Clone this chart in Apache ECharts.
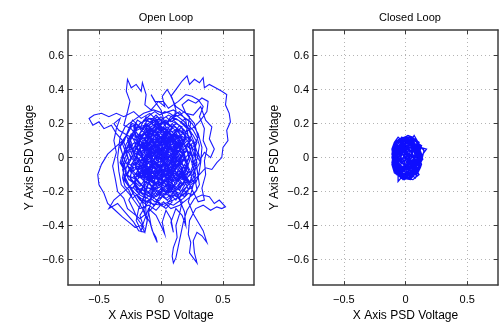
<!DOCTYPE html>
<html>
<head>
<meta charset="utf-8">
<script src="https://cdn.jsdelivr.net/npm/echarts@6/dist/echarts.min.js"></script>
<style>
  html, body { margin: 0; padding: 0; background: #fff; }
  #chart { width: 502px; height: 327px; }
</style>
</head>
<body>
<div id="chart"></div>
<script>
// panel titles and axis names
var titles = ['Open Loop', 'Closed Loop'];
var xName = 'X Axis PSD Voltage';
var yName = 'Y Axis PSD Voltage';

// tick positions
var xTicks = [-0.5, 0, 0.5];
var yTicks = [-0.6, -0.4, -0.2, 0, 0.2, 0.4, 0.6];

// open loop trajectory (x, y)
var openLoop = [
  [0.02,0.01],[0.08,-0.04],[0.12,0.03],[0.05,0.09],[-0.03,0.06],[-0.09,0.12],[-0.15,0.07],[-0.11,-0.01],
  [-0.18,-0.06],[-0.12,-0.12],[-0.05,-0.08],[0.03,-0.14],[0.1,-0.09],[0.17,-0.13],[0.22,-0.05],[0.18,0.04],
  [0.24,0.1],[0.16,0.15],[0.09,0.2],[0.02,0.14],[-0.06,0.19],[-0.13,0.16],[-0.2,0.2],[-0.24,0.12],
  [-0.28,0.05],[-0.22,-0.02],[-0.27,-0.1],[-0.2,-0.16],[-0.14,-0.22],[-0.06,-0.18],[0.01,-0.23],[0.08,-0.19],
  [0.14,-0.24],[0.2,-0.18],[0.26,-0.12],[0.29,-0.03],[0.25,0.05],
  [0.3,0.12],[0.27,0.2],[0.2,0.26],[0.12,0.3],[0.08,0.36],[0.13,0.41],[0.17,0.45],[0.21,0.48],
  [0.23,0.43],[0.27,0.46],[0.31,0.44],[0.34,0.47],[0.35,0.41],[0.39,0.43],[0.44,0.41],[0.49,0.39],
  [0.53,0.37],[0.52,0.31],[0.55,0.26],[0.56,0.21],[0.53,0.16],[0.54,0.1],[0.5,0.06],[0.49,0.0],
  [0.45,-0.03],[0.41,-0.07],[0.36,-0.06],[0.31,-0.1],
  [0.24,-0.15],[0.18,-0.09],[0.11,-0.15],[0.06,-0.07],[-0.01,-0.11],[-0.07,-0.03],[-0.14,-0.09],[-0.1,0.02],
  [-0.04,0.05],[0.03,0.02],[0.09,0.08],[0.15,0.02],[0.1,-0.03],[0.04,-0.05],[-0.02,0.0],[-0.08,0.06],
  [-0.16,0.02],[-0.21,0.08],[-0.17,0.13],[-0.1,0.09],[-0.04,0.13],[0.04,0.1],[0.11,0.14],[0.18,0.1],
  [0.21,0.17],[0.14,0.22],[0.06,0.25],[-0.02,0.21],[-0.09,0.26],[-0.16,0.23],
  [-0.22,0.27],[-0.3,0.24],[-0.36,0.26],[-0.42,0.24],[-0.48,0.26],[-0.54,0.25],[-0.58,0.23],[-0.55,0.19],
  [-0.5,0.21],[-0.46,0.17],[-0.4,0.19],[-0.36,0.14],[-0.31,0.1],
  [-0.37,0.06],[-0.43,0.02],[-0.48,-0.04],[-0.51,-0.1],[-0.5,-0.16],[-0.46,-0.21],[-0.43,-0.27],[-0.37,-0.31],
  [-0.31,-0.35],[-0.26,-0.38],[-0.21,-0.41],[-0.16,-0.4],[-0.13,-0.44],[-0.11,-0.37],[-0.15,-0.3],
  [-0.2,-0.24],[-0.25,-0.18],[-0.3,-0.13],[-0.25,-0.06],[-0.19,-0.11],[-0.13,-0.05],[-0.07,-0.13],[-0.01,-0.06],
  [0.05,-0.12],[0.12,-0.06],[0.19,-0.1],[0.23,-0.02],[0.2,0.07],[0.13,0.09],[0.07,0.15],[0,0.08],
  [-0.06,0.11],[-0.12,0.05],[-0.18,0.11],[-0.24,0.17],[-0.3,0.19],
  [-0.27,0.27],[-0.25,0.33],[-0.28,0.39],[-0.27,0.46],[-0.24,0.41],[-0.2,0.43],[-0.16,0.39],[-0.15,0.44],
  [-0.12,0.37],[-0.13,0.31],[-0.08,0.28],[-0.02,0.33],[0.03,0.3],[0.01,0.36],[0.05,0.4],[0.09,0.35],
  [0.12,0.28],[0.1,0.22],
  [0.16,0.18],[0.22,0.13],[0.27,0.08],[0.3,0.01],[0.26,-0.07],[0.2,-0.13],[0.14,-0.18],[0.07,-0.23],
  [0.0,-0.18],[-0.06,-0.24],[-0.12,-0.19],[-0.18,-0.14],[-0.23,-0.09],[-0.29,-0.02],[-0.33,0.06],[-0.28,0.13],
  [-0.22,0.04],[-0.16,-0.03],[-0.1,-0.08],[-0.04,-0.02],[0.02,0.05],[0.08,0.0],[0.14,0.07],[0.19,0.0],
  [0.14,-0.05],[0.08,-0.11],[0.01,-0.16],[-0.05,-0.11],[-0.11,-0.16],
  [-0.15,-0.26],[-0.13,-0.33],[-0.09,-0.38],[-0.07,-0.43],[-0.04,-0.47],[-0.03,-0.5],[-0.06,-0.45],[-0.08,-0.4],
  [-0.1,-0.32],[-0.05,-0.28],
  [0.0,-0.21],[0.06,-0.26],[0.12,-0.21],[0.17,-0.26],
  [0.15,-0.33],[0.12,-0.4],[0.13,-0.47],[0.1,-0.53],[0.09,-0.58],[0.1,-0.62],[0.12,-0.59],[0.14,-0.52],
  [0.16,-0.45],[0.18,-0.38],[0.21,-0.31],
  [0.27,-0.24],[0.33,-0.22],[0.39,-0.23],[0.43,-0.27],[0.47,-0.25],[0.52,-0.29],[0.49,-0.3],[0.45,-0.29],
  [0.4,-0.31],[0.34,-0.28],[0.28,-0.3],
  [0.23,-0.37],[0.22,-0.45],[0.24,-0.5],[0.23,-0.56],[0.26,-0.59],[0.29,-0.62],[0.27,-0.56],[0.26,-0.49],
  [0.29,-0.44],[0.33,-0.46],[0.37,-0.5],[0.34,-0.43],[0.3,-0.38],[0.26,-0.33],[0.22,-0.26],
  [0.25,-0.19],[0.28,-0.1],[0.24,-0.01],[0.2,0.05],[0.25,0.14],[0.19,0.21],[0.12,0.25],[0.04,0.2],
  [-0.03,0.24],[-0.1,0.2],[-0.17,0.18],[-0.23,0.22],[-0.27,0.15],[-0.31,0.08],[-0.27,0.0],[-0.31,-0.07],
  [-0.28,-0.15],[-0.22,-0.2],[-0.26,-0.25],
  [-0.22,-0.31],[-0.19,-0.36],[-0.14,-0.41],[-0.17,-0.34],[-0.12,-0.28],[-0.07,-0.22],
  [-0.02,-0.27],[0.04,-0.3],[0.09,-0.26],[0.05,-0.19],[0.11,-0.12],[0.17,-0.16],[0.22,-0.09],[0.16,-0.03],
  [0.1,0.04],[0.05,-0.02],[-0.02,0.03],[-0.08,-0.05],[-0.14,0.0],[-0.2,-0.04],[-0.24,0.03],[-0.19,0.09],
  [-0.14,0.14],[-0.07,0.17],[0.0,0.12],[0.06,0.17],[0.13,0.12],[0.2,0.15],[0.27,0.18],
  [0.32,0.22],[0.37,0.27],[0.38,0.33],[0.33,0.35],[0.28,0.32],[0.22,0.34],[0.17,0.31],[0.2,0.26],
  [0.26,0.25],[0.32,0.3],[0.36,0.22],[0.41,0.18],[0.39,0.11],[0.43,0.05],[0.4,0.0],[0.35,0.03],[0.31,-0.02],
  [0.27,0.04],[0.21,0.1],[0.15,0.05],[0.09,0.11],[0.03,0.07],[-0.03,0.1],[-0.09,0.03],[-0.15,0.1],
  [-0.2,0.15],[-0.26,0.09],[-0.21,0.0],[-0.15,-0.06],[-0.09,-0.02],[-0.03,-0.09],[0.03,-0.04],[0.09,-0.1],
  [0.15,-0.08],[0.21,-0.14],[0.16,-0.2],[0.1,-0.16],[0.04,-0.22],[-0.03,-0.19],[-0.09,-0.25],[-0.16,-0.21],
  [-0.22,-0.15],[-0.18,-0.08],[-0.12,-0.12],[-0.06,-0.06],[0.0,-0.1],[0.06,-0.02],[0.12,0.01],[0.07,0.05],
  [0.01,0.0],[-0.05,0.04],[-0.11,0.12],[-0.05,0.16],[0.02,0.18],[0.08,0.24],[0.15,0.27],[0.2,0.22],
  [0.24,0.02],[0.29,-0.07],[0.31,-0.16],[0.27,-0.21],[0.22,-0.24],[0.15,-0.28],[0.08,-0.3],[0.02,-0.26],
  [-0.04,-0.31],[-0.1,-0.28],[-0.17,-0.3],[-0.2,-0.27],[-0.26,-0.21],[-0.32,-0.16],[-0.34,-0.08],[-0.35,0.0],
  [-0.33,0.12],[-0.29,0.18],[-0.22,0.22],[-0.14,0.26],[-0.06,0.28],[0.02,0.26],[0.1,0.28],[0.18,0.24],
  [0.25,0.2],[0.3,0.14],[0.33,0.06],[0.32,-0.03],[0.3,-0.12],[0.25,-0.17],[0.18,-0.22],[0.1,-0.25],
  [0.0,-0.28],[-0.08,-0.27],[-0.16,-0.24],[-0.24,-0.19],[-0.3,-0.1],[-0.31,0.0],[-0.28,0.08],[-0.23,0.14],
  [-0.17,0.2],[-0.09,0.23],[0.0,0.22],[0.07,0.19],[0.02,0.1],[-0.04,0.07],[0.02,-0.02],
  [0.05,0.02],[0.09,0.01],[0.12,0.05],[0.1,0.09],[0.06,0.12],[0.02,0.1],[-0.02,0.13],[-0.06,0.1],[-0.1,0.11],
  [-0.12,0.07],[-0.11,0.03],[-0.14,-0.01],[-0.11,-0.05],[-0.08,-0.09],[-0.04,-0.1],[0.0,-0.13],[0.04,-0.1],[0.08,-0.12],[0.11,-0.08],
  [0.14,-0.04],[0.16,0.0],[0.19,0.03],[0.17,0.07],[0.2,0.11],[0.16,0.13],[0.13,0.17],[0.09,0.15],[0.05,0.18],[0.01,0.16],
  [-0.03,0.18],[-0.07,0.15],[-0.11,0.17],[-0.14,0.13],[-0.18,0.1],[-0.17,0.06],[-0.2,0.02],[-0.18,-0.02],[-0.21,-0.06],[-0.17,-0.09],
  [-0.15,-0.13],[-0.11,-0.15],[-0.07,-0.17],[-0.03,-0.15],[0.01,-0.18],[0.05,-0.16],[0.09,-0.18],[0.12,-0.14],[0.16,-0.11],[0.19,-0.07],
  [0.21,-0.03],[0.23,0.01],[0.21,0.05],[0.18,0.02],[0.14,0.04],[0.11,0.0],[0.07,-0.03],[0.03,-0.06],[-0.01,-0.04],[-0.05,-0.06],
  [-0.08,-0.02],[-0.06,0.02],[-0.09,0.06],[-0.05,0.07],[-0.02,0.04],[0.01,0.06],[0.04,0.05],[0.07,0.07],[0.05,0.03],[0.08,-0.01],
  [0.12,-0.04],[0.16,-0.07],[0.2,-0.1],[0.24,-0.08],[0.26,-0.04],[0.28,0.0],[0.27,0.05],[0.29,0.09],[0.26,0.13],[0.23,0.16],
  [0.24,0.21],[0.2,0.23],[0.16,0.21],[0.12,0.23],[0.08,0.21],[0.04,0.24],[0.0,0.22],[-0.04,0.25],[-0.08,0.22],[-0.12,0.24],
  [-0.15,0.2],[-0.19,0.22],[-0.22,0.18],[-0.21,0.14],[-0.25,0.11],[-0.23,0.07],[-0.26,0.03],[-0.24,-0.01],[-0.27,-0.05],[-0.24,-0.09],
  [-0.25,-0.13],[-0.21,-0.15],[-0.19,-0.19],[-0.15,-0.18],[-0.12,-0.22],[-0.08,-0.2],[-0.04,-0.23],[0.0,-0.21],[0.04,-0.24],[0.08,-0.22],
  [0.12,-0.25],[0.15,-0.21],[0.19,-0.23],[0.22,-0.19],[0.2,-0.15],[0.17,-0.12],[0.13,-0.1],[0.1,-0.06],[0.06,-0.08],[0.03,-0.03],
  [0.0,0.0],[-0.03,-0.02],[-0.06,0.01],[-0.04,0.04],[-0.01,0.02],[0.02,0.04],[0.01,0.08],[-0.03,0.07],[-0.07,0.05],[-0.1,0.08],
  [-0.13,0.05],[-0.15,0.08],[-0.17,0.04],[-0.15,0.0],[-0.17,-0.04],[-0.13,-0.06],[-0.1,-0.03],[-0.07,-0.06],[-0.09,-0.1],[-0.05,-0.13],
  [-0.02,-0.1],[0.01,-0.08],[0.04,-0.07],[0.06,-0.04],[0.09,-0.06],[0.12,-0.02],[0.1,0.02],[0.13,0.06],[0.15,0.1],[0.12,0.13],
  [0.08,0.1],[0.05,0.13],[0.02,0.12],[-0.01,0.15],[-0.05,0.13],[-0.08,0.16],[-0.1,0.13],[-0.07,0.1],[-0.04,0.11],[0.0,0.09],
  [0.03,0.13],[0.07,0.16],[0.1,0.19],[0.13,0.2],[0.17,0.17],[0.19,0.13],[0.22,0.09],[0.25,0.07],[0.23,0.03],[0.19,-0.01],
  [0.16,-0.04],[0.13,-0.01],[0.09,0.03],[0.06,0.07],[0.03,0.1],[-0.01,0.11],[-0.05,0.09],[-0.08,0.12],[-0.12,0.14],[-0.16,0.16],
  [-0.19,0.19],[-0.23,0.2],[-0.26,0.17],[-0.28,0.13],[-0.3,0.09],[-0.28,0.05],[-0.3,0.01],[-0.32,-0.03],[-0.29,-0.07],[-0.27,-0.11],
  [-0.23,-0.12],[-0.2,-0.09],[-0.18,-0.12],[-0.14,-0.1],[-0.11,-0.12],[-0.07,-0.09],[-0.03,-0.06],[0.0,-0.03],[0.03,0.0],[0.06,0.03],
  [0.04,-0.01],[0.01,-0.05],[-0.02,-0.08],[-0.06,-0.11],[-0.09,-0.14],[-0.13,-0.16],[-0.16,-0.2],[-0.19,-0.22],[-0.16,-0.25],[-0.12,-0.26],
  [-0.08,-0.24],[-0.05,-0.26],[-0.01,-0.25],[0.02,-0.22],[0.05,-0.2],[0.09,-0.21],[0.12,-0.18],[0.15,-0.15],[0.18,-0.16],[0.21,-0.12],
  [0.23,-0.15],[0.25,-0.11],[0.22,-0.07],[0.19,-0.04],[0.17,-0.08],[0.14,-0.11],[0.1,-0.13],[0.07,-0.15],[0.03,-0.17],[0.0,-0.15],
  [-0.03,-0.17],[-0.06,-0.14],[-0.1,-0.11],[-0.13,-0.08],[-0.11,-0.04],[-0.08,-0.01],[-0.1,0.03],[-0.13,0.01],[-0.16,-0.02],[-0.19,0.0],
  [-0.22,0.01],[-0.21,0.05],[-0.18,0.08],[-0.2,0.12],[-0.24,0.14],[-0.27,0.1],[-0.25,0.06],[-0.28,0.02],[-0.3,-0.03],[-0.28,-0.08],
  [-0.3,-0.12],[-0.27,-0.16],[-0.23,-0.18],[-0.2,-0.15],[-0.17,-0.17],[-0.14,-0.14],[-0.12,-0.1],[-0.15,-0.07],[-0.19,-0.05],[-0.22,-0.08],
  [-0.24,-0.04],[-0.21,-0.01],[-0.18,0.03],[-0.14,0.04],[-0.11,0.07],[-0.14,0.11],[-0.17,0.14],[-0.13,0.18],[-0.09,0.19],[-0.06,0.22],
  [-0.02,0.2],[0.02,0.21],[0.06,0.19],[0.1,0.17],[0.14,0.15],[0.17,0.12],[0.15,0.08],[0.18,0.06],[0.21,0.08],[0.24,0.04],
  [0.26,0.0],[0.25,-0.04],[0.27,-0.08],[0.24,-0.12],[0.27,-0.15],[0.24,-0.18],[0.2,-0.2],[0.17,-0.19],[0.14,-0.22],[0.1,-0.19],
  [0.07,-0.17],[0.04,-0.14],[0.07,-0.11],[0.1,-0.08],[0.13,-0.05],[0.16,-0.02],[0.14,0.01],[0.11,0.04],[0.08,0.05],[0.05,0.08],
  [0.02,0.06],[-0.01,0.03],[-0.04,0.0],[-0.02,-0.03],[0.01,-0.01],[0.04,0.02],[0.06,0.0],[0.04,-0.03],[0.07,-0.06],[0.05,-0.09],
  [0.02,-0.11],[-0.01,-0.13],[-0.04,-0.12],[-0.06,-0.09],[-0.04,-0.06],[-0.07,-0.04],[-0.1,-0.07],[-0.12,-0.03],[-0.09,0.0],[-0.12,0.03],
  [-0.09,0.05],[-0.06,0.07],[-0.03,0.09],[0.0,0.07],[0.03,0.08],[0.06,0.1],[0.09,0.12],[0.12,0.1],[0.1,0.06],[0.13,0.03],
  [0.16,0.05],[0.18,0.09],[0.15,0.12],[0.11,0.11],[0.07,0.09],[0.04,0.06],[0.01,0.03],[-0.02,0.05],[-0.05,0.04],[-0.07,0.02],
  [-0.1,0.0],[-0.13,0.02],[-0.15,0.06],[-0.18,0.09],[-0.21,0.11],[-0.2,0.16],[-0.17,0.2],[-0.13,0.22],[-0.09,0.25],[-0.05,0.27],
  [-0.01,0.25],[0.03,0.27],[0.07,0.26],[0.11,0.24],[0.15,0.25],[0.19,0.27],[0.23,0.24],[0.22,0.19],[0.26,0.16],[0.29,0.12],
  [0.31,0.07],[0.3,0.03],[0.32,-0.02],[0.29,-0.06],[0.3,-0.11],[0.28,-0.15],[0.29,-0.19],[0.25,-0.22],[0.22,-0.21],[0.18,-0.24],
  [0.14,-0.26],[0.1,-0.28],[0.06,-0.27],[0.02,-0.29],[-0.02,-0.26],[-0.06,-0.28],[-0.1,-0.25],[-0.13,-0.27],[-0.17,-0.25],[-0.2,-0.22],
  [-0.23,-0.24],[-0.26,-0.19],[-0.29,-0.17],[-0.31,-0.12],[-0.3,-0.07],[-0.33,-0.03],[-0.31,0.02],[-0.33,0.07],[-0.3,0.11],[-0.27,0.14],
  [-0.24,0.18],[-0.2,0.2],[-0.16,0.17],[-0.12,0.19],[-0.08,0.17],[-0.04,0.18],[0.0,0.16],[0.04,0.15],[0.08,0.13],[0.06,0.09],
  [0.03,0.05],[0.0,0.02],[-0.03,0.04],[-0.05,0.0],[-0.08,-0.03],[-0.05,-0.04],[-0.02,-0.06],[0.01,-0.09],[0.04,-0.12],[0.07,-0.13],
  [0.1,-0.1],[0.13,-0.13],[0.16,-0.09],[0.18,-0.05],[0.15,-0.01],[0.17,0.02],[0.14,0.06],[0.1,0.08],[0.07,0.11],[0.03,0.12],
  [0.0,0.14],[-0.04,0.16],[-0.07,0.13],[-0.11,0.1],[-0.13,0.06],[-0.16,0.03],[-0.14,-0.02],[-0.16,-0.06],[-0.13,-0.11],[-0.09,-0.12],
  [-0.06,-0.15],[-0.02,-0.14],[0.01,-0.11],[0.05,-0.09],[0.08,-0.07],[0.1,-0.03],[0.08,0.0],[0.05,0.03],[0.02,0.01],[-0.01,-0.01],
  [0.04,0.03],[0.01,0.07],[0.06,0.09],[0.03,0.14],[-0.02,0.11],[-0.05,0.16],[-0.09,0.12],[-0.06,0.08],[-0.11,0.05],
  [-0.08,0.0],[-0.13,-0.03],[-0.09,-0.07],[-0.12,-0.12],[-0.07,-0.15],[-0.03,-0.11],[0.02,-0.14],[0.0,-0.19],[0.05,-0.21],[0.08,-0.16],
  [0.13,-0.19],[0.16,-0.14],[0.12,-0.1],[0.17,-0.06],[0.13,-0.02],[0.18,0.01],[0.15,0.06],[0.19,0.1],[0.14,0.13],[0.1,0.1],
  [0.07,0.15],[0.02,0.18],[-0.03,0.15],[-0.07,0.2],[-0.12,0.18],[-0.1,0.13],[-0.15,0.11],[-0.19,0.14],[-0.17,0.08],[-0.21,0.04],
  [-0.16,0.01],[-0.2,-0.03],[-0.15,-0.06],[-0.18,-0.11],[-0.13,-0.14],[-0.16,-0.19],[-0.1,-0.2],[-0.06,-0.17],[-0.02,-0.21],[0.03,-0.18],
  [0.07,-0.12],[0.04,-0.08],[0.09,-0.05],[0.05,-0.01],[0.1,0.03],[0.06,0.06],[0.0,0.04],[-0.04,0.08],[-0.02,0.02],[-0.06,-0.02],
  [-0.02,-0.06],[0.03,-0.04],[0.01,0.0],[0.07,0.01],[0.11,-0.03],[0.14,0.01],[0.11,0.06],[0.16,0.09],[0.12,0.15],[0.17,0.18],
  [0.12,0.2],[0.07,0.22],[0.03,0.19],[-0.02,0.23],[-0.06,0.19],[-0.11,0.22],[-0.15,0.17],[-0.2,0.18],[-0.24,0.13],[-0.21,0.09],
  [-0.26,0.06],[-0.23,0.01],[-0.27,-0.03],[-0.22,-0.06],[-0.25,-0.11],[-0.2,-0.13],[-0.22,-0.18],[-0.17,-0.22],[-0.12,-0.24],[-0.08,-0.21],
  [-0.04,-0.25],[0.01,-0.23],[0.05,-0.25],[0.1,-0.22],[0.15,-0.24],[0.18,-0.19],[0.22,-0.16],[0.19,-0.11],[0.23,-0.07],[0.2,-0.03],
  [0.24,0.02],[0.2,0.05],[0.23,0.11],[0.19,0.16],[0.15,0.19],[0.1,0.14],[0.05,0.11],[0.08,0.06],[0.03,0.02],[-0.01,0.06],
  [-0.05,0.03],[-0.09,0.07],[-0.13,0.09],[-0.11,0.14],[-0.07,0.17],[-0.03,0.2],[0.02,0.16],[0.05,0.13],[0.1,0.12],[0.13,0.08],
  [0.09,0.04],[0.12,0.0],[0.08,-0.03],[0.11,-0.07],[0.07,-0.09],[0.02,-0.07],[-0.02,-0.09],[-0.05,-0.05],[-0.09,-0.09],[-0.13,-0.07],
  [-0.1,-0.12],[-0.05,-0.14],[-0.08,-0.18],[-0.13,-0.18],[-0.18,-0.15],[-0.22,-0.11],[-0.18,-0.07],[-0.23,-0.03],[-0.19,0.02],[-0.14,0.0],
  [-0.11,-0.04],[-0.07,0.0],[-0.1,0.04],[-0.14,0.06],[-0.18,0.12],[-0.13,0.15],[-0.08,0.14],[-0.04,0.12],[-0.01,0.09],[0.03,0.1],
  [0.06,0.04],[0.02,-0.02],[-0.03,-0.03],[-0.01,-0.08],[0.04,-0.1],[0.08,-0.08],[0.12,-0.12],[0.15,-0.09],[0.19,-0.13],[0.24,-0.1],
  [0.27,-0.05],[0.25,0.0],[0.28,0.04],[0.26,0.09],[0.22,0.06],[0.18,0.08],[0.2,0.13],[0.16,0.16],[0.11,0.18],[0.07,0.19],
  [0.04,0.22],[0.0,0.19],[-0.04,0.22],[-0.09,0.21],[-0.14,0.22],[-0.17,0.17],[-0.22,0.15],[-0.25,0.09],[-0.28,0.04],[-0.26,-0.02],
  [-0.29,-0.08],[-0.26,-0.13],[-0.22,-0.15],[-0.19,-0.2],[-0.14,-0.21],[-0.09,-0.23],[-0.05,-0.19],[0.0,-0.17],[0.04,-0.2],[0.09,-0.18],
  [0.13,-0.15],[0.1,-0.11],[0.06,-0.06],[0.02,-0.03],[-0.02,0.01],[-0.05,0.06],[-0.08,0.1],[-0.04,0.14],[0.0,0.12],[0.04,0.08],
  [0.08,0.12],[0.12,0.16],[0.15,0.14],[0.17,0.1],[0.16,0.04],[0.2,0.0],[0.17,-0.03],[0.13,-0.06],[0.08,-0.02],[0.04,0.0],
  [0.0,-0.05],[-0.04,-0.07],[-0.08,-0.05],[-0.12,-0.09],[-0.16,-0.12],[-0.19,-0.08],[-0.17,-0.03],[-0.12,0.01],[-0.08,0.03],[-0.04,0.01],
  [0.0,0.03],[0.03,0.06],[0.07,0.03],[0.11,0.05],[0.14,0.1],[0.1,0.13],[0.06,0.14],[0.01,0.13],[-0.03,0.1],[-0.07,0.07],
  [-0.11,0.09],[-0.16,0.07],[-0.2,0.08],[-0.23,0.05],[-0.2,-0.01],[-0.24,-0.07],[-0.2,-0.1],[-0.15,-0.09],[-0.11,-0.06],[-0.07,-0.11],
  [-0.03,-0.13],[0.01,-0.1],[0.06,-0.11],[0.1,-0.14],[0.14,-0.12],[0.18,-0.09],[0.21,-0.05],[0.18,0.0],[0.14,0.03],[0.1,0.0],
  [0.05,0.05],[0.01,0.01],[-0.03,0.05],[-0.01,0.09],[-0.06,0.13],[-0.11,0.11],[-0.14,0.15],[-0.1,0.19],[-0.05,0.21],[0.0,0.24],
  [0.05,0.2],[0.09,0.23],[0.14,0.22],[0.18,0.2],[0.22,0.17],[0.25,0.12],[0.28,0.07],[0.27,0.02],[0.29,-0.04],[0.26,-0.09],
  [0.28,-0.14],[0.24,-0.16],[0.21,-0.2],[0.17,-0.22],[0.12,-0.2],[0.07,-0.2],[0.03,-0.15],[-0.01,-0.13],[-0.05,-0.1],[-0.02,-0.04],
  [-0.05,-0.02],[-0.12,-0.2],[-0.18,-0.3],[-0.2,-0.37],[-0.16,-0.43],[-0.14,-0.38],[-0.1,-0.3],[-0.04,-0.34],[0.0,-0.4],[0.03,-0.45],
  [0.01,-0.38],[0.04,-0.31],[0.08,-0.36],[0.1,-0.44],[0.08,-0.38],[0.12,-0.3],[0.17,-0.34],[0.2,-0.4],[0.19,-0.32],[0.15,-0.25],
  [0.0,0.0],[0.09,0.06],[0.02,0.12],[-0.06,0.05],[-0.13,0.1],[-0.07,0.01],[-0.15,-0.05],[-0.06,-0.08],[0.02,-0.03],[0.06,-0.12],
  [0.13,-0.06],[0.08,0.02],[0.16,0.07],[0.1,0.14],[0.03,0.07],[-0.03,0.15],[-0.09,0.09],[-0.17,0.05],[-0.11,-0.02],[-0.18,-0.1],
  [-0.1,-0.14],[-0.03,-0.07],[0.04,-0.16],[0.11,-0.11],[0.17,-0.03],[0.12,0.04],[0.05,0.0],[-0.01,0.08],[0.06,0.15],[-0.01,0.19],
  [-0.08,0.14],[-0.14,0.18],[-0.19,0.12],[-0.12,0.06],[-0.04,0.01],[-0.09,-0.06],[-0.02,-0.13],[-0.08,-0.19],[0.0,-0.17],[0.07,-0.07],
  [0.14,-0.14],[0.2,-0.08],[0.15,0.0],[0.21,0.04],[0.16,0.12],[0.09,0.1],[0.04,0.03],[-0.02,-0.01],[-0.07,0.06],[-0.02,0.1],
  [0.05,0.15],[0.0,0.28],[-0.04,0.32],[-0.08,0.37],[-0.05,0.33],[0.02,0.33],[0.06,0.29],[0.14,0.33],[0.2,0.37],[0.25,0.36],
  [0.3,0.34],[0.34,0.3],[0.31,0.24],[0.35,0.17],[0.34,0.1],[0.37,0.05],[0.35,-0.02],[0.36,-0.1],[0.33,-0.18],[0.35,-0.25],[0.3,-0.26],
  [0.04,0.12],[0.1,0.18],[0.03,0.21],[-0.05,0.18],[-0.11,0.13],[-0.16,0.08],[-0.2,0.0],[-0.14,-0.04],[-0.08,-0.11],[-0.14,-0.16],
  [-0.06,-0.2],[0.01,-0.1],[0.08,-0.15],[0.15,-0.19],[0.19,-0.13],[0.13,-0.09],[0.06,-0.04],[0.11,0.02],[0.05,0.07],[-0.02,0.04],
  [-0.08,0.02],[-0.05,-0.04],[0.01,-0.06],[-0.04,-0.11],[0.03,-0.2],[0.1,-0.17],[0.07,-0.1],[0.13,-0.02],[0.19,0.02],[0.14,0.09],
  [0.07,0.05],[0.0,0.11],[-0.06,0.16],[-0.12,0.2],[-0.17,0.14],[-0.1,0.08],[-0.2,0.1],
  [-0.34,0.16],[-0.38,0.2],[-0.33,0.23],[-0.36,0.17],[-0.38,0.1],[-0.36,0.03],[-0.39,-0.05],[-0.37,-0.12],[-0.35,-0.2],[-0.3,-0.24],
  [-0.27,-0.3],[-0.22,-0.33],[-0.17,-0.36],[-0.12,-0.33],
  [-0.15,0.02],[-0.21,-0.04],[-0.16,-0.12],[-0.09,-0.16],
  [-0.03,-0.22],[0.05,-0.18],[0.0,-0.11],[0.06,-0.02],[0.0,0.04],[0.07,0.1],[0.13,0.16],[0.18,0.1],[0.12,0.06],[0.17,-0.01],
  [0.1,-0.06],[0.04,-0.1],[-0.03,-0.04],[-0.1,0.0],[-0.04,0.07],[-0.1,0.13],[-0.04,0.2],[0.02,0.15],[0.08,0.08],[0.03,0.01],
  [-0.05,-0.01],[-0.12,-0.08],[-0.06,-0.14],[0.0,-0.07],[0.08,-0.1],[0.14,-0.03],[0.08,0.04],[0.02,0.09],[-0.05,0.11],[-0.13,0.04],
  [-0.19,0.08],[-0.13,0.14],[-0.07,0.1],[-0.01,0.05],[0.05,-0.05],[0.12,-0.1],[0.18,-0.16],[0.11,-0.2],[0.04,-0.13],[-0.03,-0.17],
  [-0.11,-0.12],[-0.17,-0.07],[-0.11,0.01],[-0.05,0.09],[0.02,0.17],[0.09,0.13],[0.15,0.05],[0.09,-0.02],[0.03,-0.08],[-0.04,-0.03],
  [-0.3,-0.2],[-0.38,-0.25],[-0.42,-0.3],[-0.35,-0.27],[-0.28,-0.33],[-0.22,-0.38],[-0.18,-0.43],[-0.13,-0.44],
  [-0.01,0.02],[0.05,0.09],[-0.02,0.13],[-0.09,0.17],[-0.15,0.13],[-0.21,0.07],[-0.15,-0.01],[-0.08,-0.03],[-0.13,-0.11],[-0.07,-0.17],
  [0.01,-0.14],[0.09,-0.19],[0.16,-0.11],[0.21,-0.05],[0.17,0.05],[0.11,0.1],[0.04,0.16],[-0.03,0.09],[-0.09,0.04],[-0.03,0.0]
];

// closed loop trajectory (x, y)
var closedLoop = [
  [0.0,0.0],[0.06,0.05],[-0.04,0.08],[-0.08,-0.02],[0.03,-0.09],[0.1,-0.03],[0.08,0.07],[0.01,0.11],
  [-0.07,0.06],[-0.1,-0.04],[-0.04,-0.11],[0.05,-0.12],[0.11,-0.06],[0.12,0.03],[0.06,0.1],[-0.02,0.05],
  [-0.09,0.02],[-0.05,-0.06],[0.02,-0.04],[0.09,0.01],[0.04,0.08],[-0.03,0.12],[-0.09,0.07],[-0.11,0.0],
  [-0.08,-0.08],[-0.01,-0.13],[0.07,-0.1],[0.13,-0.02],[0.15,0.04],[0.11,0.08],[0.07,0.13],[0.02,0.07],
  [-0.05,0.02],[0.0,-0.07],[0.06,-0.05],[0.1,0.05],[0.03,0.04],[-0.06,0.1],[-0.1,0.05],[-0.07,-0.04],
  [-0.03,-0.09],[0.04,-0.1],[0.1,-0.08],[0.12,0.0],[0.08,0.04],[0.02,0.1],[-0.04,0.09],[-0.08,0.03],
  [-0.06,-0.05],[0.0,-0.11],[0.07,-0.07],[0.11,0.02],[0.09,0.09],[0.03,0.12],[-0.05,0.07],[-0.1,0.03],
  [-0.09,-0.06],[-0.02,-0.1],[0.05,-0.08],[0.09,-0.02],[0.05,0.03],[-0.01,0.08],[-0.07,0.09],[-0.1,-0.01],
  [-0.06,-0.1],[-0.06,-0.14],[0.01,-0.08],[0.08,-0.12],[0.12,-0.05],[0.1,0.06],[0.04,0.11],[-0.02,0.1],
  [-0.08,0.05],[-0.04,-0.03],[0.03,-0.06],[0.08,0.02],[0.13,0.07],[0.07,0.1],[0.0,0.04],[-0.06,0.06],
  [-0.09,-0.03],[-0.03,-0.07],[0.05,-0.03],[0.11,-0.1],[0.06,-0.13],[-0.02,-0.12],[-0.07,-0.07],[-0.11,0.02],
  [-0.07,0.1],[0.0,0.12],[0.06,0.08],[0.12,0.04],[0.14,-0.01],[0.09,-0.05],[0.03,-0.01],[-0.03,0.02],
  [-0.08,0.08],[-0.02,0.11],[0.05,0.06],[0.1,0.0],[0.07,-0.09],[0.0,-0.05],[-0.05,-0.09],[-0.1,-0.05],
  [-0.06,0.03],[0.01,0.05],[0.08,0.11],[0.12,0.06],[0.17,0.05],[0.11,-0.01],[0.06,-0.1],[-0.01,-0.1],
  [-0.08,-0.05],[-0.1,0.06],[-0.04,0.11],[0.04,0.09],[0.09,0.03],[0.04,-0.06],[-0.03,-0.03],[-0.06,0.04],
  [0.02,0.02],[0.08,-0.06],[0.11,0.09],[0.05,0.12],[-0.03,0.07],[-0.09,-0.01],[-0.04,-0.12],[0.04,-0.13],
  [0.1,-0.07],[0.06,0.0],[0.0,0.03],
  [0.01,0.02],[0.03,0.05],[0.06,0.03],[0.08,0.06],[0.05,0.08],[0.02,0.09],[-0.01,0.07],[-0.04,0.05],[-0.06,0.07],[-0.08,0.04],
  [-0.07,0.01],[-0.09,-0.02],[-0.06,-0.04],[-0.04,-0.07],[-0.01,-0.05],[0.02,-0.07],[0.05,-0.06],[0.07,-0.03],[0.09,-0.05],[0.1,-0.01],
  [0.08,0.02],[0.1,0.05],[0.07,0.09],[0.04,0.11],[0.0,0.1],[-0.03,0.09],[-0.06,0.1],[-0.09,0.07],[-0.1,0.03],[-0.1,-0.01],
  [-0.1,-0.05],[-0.08,-0.08],[-0.05,-0.1],[-0.02,-0.11],[0.01,-0.1],[0.04,-0.11],[0.07,-0.09],[0.1,-0.06],[0.12,-0.03],[0.11,0.01],
  [0.12,0.05],[0.1,0.08],[0.08,0.1],[0.05,0.12],[0.02,0.12],[-0.02,0.11],[-0.05,0.09],[-0.03,0.06],[0.0,0.04],[0.03,0.02],
  [0.05,0.0],[0.03,-0.03],[0.0,-0.02],[-0.03,-0.01],[-0.05,0.02],[-0.03,0.03],[-0.01,0.0],[0.01,-0.03],[0.04,-0.04],[0.06,-0.01],
  [0.08,0.0],[0.07,0.04],[0.04,0.06],[0.01,0.05],[-0.02,0.03],[-0.04,0.0],[-0.06,-0.02],[-0.05,-0.05],[-0.02,-0.07],[0.01,-0.06],
  [0.04,-0.08],[0.07,-0.06],[0.09,-0.09],[0.06,-0.11],[0.03,-0.12],[0.0,-0.12],[-0.03,-0.1],[-0.06,-0.08],[-0.08,-0.05],[-0.07,-0.02],
  [-0.09,0.01],[-0.07,0.05],[-0.05,0.07],[-0.02,0.08],[0.01,0.08],[0.04,0.09],[0.07,0.07],[0.09,0.03],[0.11,-0.02],[0.09,-0.04],
  [0.07,-0.01],[0.05,0.03],[0.02,0.04],[-0.01,0.02],[-0.02,-0.01],[0.0,-0.04],[0.02,-0.05],[0.05,-0.03],[0.03,0.0],[0.01,0.01],
  [-0.02,0.06],[-0.05,0.04],[-0.08,0.06],[-0.07,0.09],[-0.04,0.11],[-0.01,0.12],[0.02,0.11],[0.05,0.1],[0.08,0.08],[0.11,0.06],
  [0.13,0.02],[0.12,-0.02],[0.1,-0.04],[0.11,-0.07],[0.08,-0.07],[0.05,-0.09],[0.02,-0.09],[-0.01,-0.08],[-0.04,-0.09],[-0.07,-0.1],
  [-0.09,-0.07],[-0.11,-0.03],[-0.1,0.01],[-0.08,0.02],[-0.06,0.0],[-0.04,-0.03],[-0.01,-0.02],[0.02,-0.01],[0.04,0.01],[0.06,0.04],
  [0.09,0.05],[0.06,0.06],[0.03,0.07],[0.0,0.06],[-0.03,0.07],[-0.06,0.05],[-0.04,0.02],[-0.01,0.04],[0.02,0.02],[0.05,0.02],
  [0.08,-0.02],[0.06,-0.05],[0.03,-0.06],[0.0,-0.07],[-0.03,-0.05],[-0.06,-0.06],[-0.04,-0.04],[-0.02,-0.03],[0.01,-0.04],[0.03,-0.02],
  [0.0,0.0],[-0.02,0.02],[-0.05,0.01],[-0.07,-0.03],[-0.09,-0.05],[-0.07,-0.07],[-0.04,-0.08],[-0.02,-0.09],[0.01,-0.12],[0.03,-0.1],
  [0.06,-0.08],[0.08,-0.1],[0.1,-0.09],[0.12,-0.06],[0.13,-0.04],[0.11,0.0],[0.12,0.03],[0.1,0.04],[0.08,0.04],[0.06,0.07],
  [0.04,0.1],[0.01,0.1],[-0.02,0.09],[-0.05,0.11],[-0.08,0.09],[-0.1,0.06],[-0.11,0.02],[-0.09,-0.01],[-0.07,0.0],[-0.05,-0.02],
  [-0.02,0.0],[0.02,0.03],[-0.01,0.06],[0.03,0.08],[0.0,0.11],[-0.04,0.1],[-0.02,0.07],[-0.06,0.03],[-0.03,-0.02],[-0.07,-0.05],
  [-0.03,-0.08],[0.01,-0.07],[0.04,-0.05],[0.02,-0.09],[0.06,-0.11],[0.09,-0.07],[0.07,-0.04],[0.11,-0.04],[0.09,0.0],[0.12,0.02],
  [0.09,0.06],[0.06,0.09],[0.03,0.1],[0.06,0.12],[0.02,0.13],[-0.03,0.11],[-0.06,0.08],[-0.09,0.05],[-0.07,0.02],[-0.1,-0.02],
  [-0.08,-0.06],[-0.05,-0.08],[-0.02,-0.06],[0.0,-0.09],[0.03,-0.07],[0.06,-0.06],[0.08,-0.03],[0.06,0.01],[0.09,0.02],[0.07,0.06],
  [0.04,0.04],[0.01,0.07],[-0.02,0.04],[-0.05,0.06],[-0.07,0.03],[-0.05,-0.01],[-0.08,-0.03],[-0.05,-0.07],[-0.01,-0.11],[0.02,-0.12],
  [0.05,-0.1],[0.08,-0.08],[0.11,-0.05],[0.13,-0.01],[0.11,0.03],[0.13,0.06],[0.1,0.09],[0.07,0.11],[0.03,0.09],[0.0,0.08],
  [-0.03,0.1],[-0.06,0.12],[-0.09,0.09],[-0.11,0.05],[-0.1,0.0],[-0.11,-0.04],[-0.09,-0.09],[-0.05,-0.11],[-0.02,-0.13],[0.02,-0.1],
  [0.0,-0.06],[0.03,-0.03],[0.0,0.0],[0.04,0.02],[0.07,0.0],[0.05,-0.04],[0.02,-0.02],[-0.01,0.01]
];

var fontFamily = '"Liberation Sans", Arial, Helvetica, sans-serif';
var frameColor = '#3c3c3c';

function tickLabel(v) {
  return v < 0 ? '\u2212' + Math.abs(v) : String(v);
}

function bottomAxis(gridIndex) {
  return {
    type: 'value', gridIndex: gridIndex, position: 'bottom',
    min: -0.75, max: 0.75,
    name: xName, nameLocation: 'middle', nameGap: 24,
    nameTextStyle: { fontFamily: fontFamily, fontSize: 12, color: '#000' },
    axisLine: { show: true, onZero: false, lineStyle: { color: frameColor, width: 1.5 } },
    axisTick: { show: true, inside: true, length: 4, customValues: xTicks, lineStyle: { color: frameColor } },
    axisLabel: { customValues: xTicks, formatter: tickLabel, margin: 9, fontFamily: fontFamily, fontSize: 11, color: '#000' },
    splitLine: { show: true, lineStyle: { color: '#b4b4b4', type: [1, 3] } }
  };
}

function topAxis(gridIndex) {
  return {
    type: 'value', gridIndex: gridIndex, position: 'top',
    min: -0.75, max: 0.75,
    axisLine: { show: true, onZero: false, lineStyle: { color: frameColor, width: 1.5 } },
    axisTick: { show: true, inside: true, length: 4, customValues: xTicks, lineStyle: { color: frameColor } },
    axisLabel: { show: false },
    splitLine: { show: false }
  };
}

function leftAxis(gridIndex) {
  return {
    type: 'value', gridIndex: gridIndex, position: 'left',
    min: -0.75, max: 0.75,
    name: yName, nameLocation: 'middle', nameGap: 32,
    nameTextStyle: { fontFamily: fontFamily, fontSize: 12, color: '#000' },
    axisLine: { show: true, onZero: false, lineStyle: { color: frameColor, width: 1.5 } },
    axisTick: { show: true, inside: true, length: 4, customValues: yTicks, lineStyle: { color: frameColor } },
    axisLabel: { customValues: yTicks, formatter: tickLabel, margin: 4, fontFamily: fontFamily, fontSize: 11, color: '#000' },
    splitLine: { show: true, lineStyle: { color: '#b4b4b4', type: [1, 3] } }
  };
}

function rightAxis(gridIndex) {
  return {
    type: 'value', gridIndex: gridIndex, position: 'right',
    min: -0.75, max: 0.75,
    axisLine: { show: true, onZero: false, lineStyle: { color: frameColor, width: 1.5 } },
    axisTick: { show: true, inside: true, length: 4, customValues: yTicks, lineStyle: { color: frameColor } },
    axisLabel: { show: false },
    splitLine: { show: false }
  };
}

var chart = echarts.init(document.getElementById('chart'), null, { renderer: 'canvas' });

var option = {
  animation: false,
  backgroundColor: '#fff',
  title: [
    { text: titles[0], left: 161, top: 7, textAlign: 'center',
      textStyle: { fontFamily: fontFamily, fontSize: 11, fontWeight: 'normal', color: '#000' } },
    { text: titles[1], left: 405, top: 7, textAlign: 'center',
      textStyle: { fontFamily: fontFamily, fontSize: 11, fontWeight: 'normal', color: '#000' } }
  ],
  grid: [
    { left: 68, top: 30, width: 186, height: 256 },
    { left: 313, top: 30, width: 185, height: 256 }
  ],
  xAxis: [bottomAxis(0), topAxis(0), bottomAxis(1), topAxis(1)],
  yAxis: [leftAxis(0), rightAxis(0), leftAxis(1), rightAxis(1)],
  series: [
    {
      // trajectories drawn as one polyline each, in data order
      type: 'lines', coordinateSystem: 'cartesian2d', polyline: true,
      xAxisIndex: 0, yAxisIndex: 0, large: false, progressive: 0,
      data: [{ coords: openLoop }],
      lineStyle: { color: '#0000ff', width: 1.1, opacity: 0.9, curveness: 0 },
      silent: true
    },
    {
      type: 'lines', coordinateSystem: 'cartesian2d', polyline: true,
      xAxisIndex: 2, yAxisIndex: 2, large: false, progressive: 0,
      data: [{ coords: closedLoop }],
      lineStyle: { color: '#0000ff', width: 1.3, opacity: 0.95, curveness: 0 },
      silent: true
    }
  ]
};

chart.setOption(option);
</script>
</body>
</html>
